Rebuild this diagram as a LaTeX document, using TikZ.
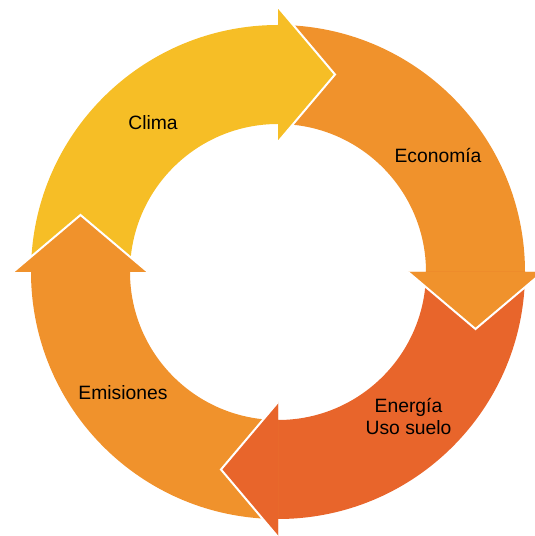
\documentclass[tikz,border=0pt]{standalone}
\usepackage{fontspec}
\setmainfont{Liberation Sans}
\usetikzlibrary{calc}
\definecolor{clima}{RGB}{246,190,38}
\definecolor{naranja}{RGB}{240,146,44}
\definecolor{rojizo}{RGB}{232,101,43}
\tikzset{
	etiqueta/.style={font=\fontsize{19.3}{22.5}\selectfont, text=black, align=center},
	hueco/.style={white, line width=2pt, line join=miter}
}
\begin{document}
\begin{tikzpicture}[x=1pt,y=1pt]
			\useasboundingbox (0,0) rectangle (535,536);
			\coordinate (O) at (278,264);
			% bandas con cabeza
			\fill [clima] ($(O)+(180:247)$) arc [start angle=180, end angle=90, radius=247] -- ($(O)+(90:265)$) -- ($(O)+(90:197.5)+(0:57)$) -- ($(O)+(90:130)$) -- ($(O)+(90:148)$) arc [start angle=90, end angle=180, radius=148] -- cycle;
			\fill [naranja] ($(O)+(90:247)$) arc [start angle=90, end angle=0, radius=247] -- ($(O)+(0:265)$) -- ($(O)+(0:197.5)+(-90:57)$) -- ($(O)+(0:130)$) -- ($(O)+(0:148)$) arc [start angle=0, end angle=90, radius=148] -- cycle;
			\fill [rojizo] ($(O)+(0:247)$) arc [start angle=0, end angle=-90, radius=247] -- ($(O)+(-90:265)$) -- ($(O)+(-90:197.5)+(-180:57)$) -- ($(O)+(-90:130)$) -- ($(O)+(-90:148)$) arc [start angle=-90, end angle=0, radius=148] -- cycle;
			\fill [naranja] ($(O)+(-90:247)$) arc [start angle=-90, end angle=-180, radius=247] -- ($(O)+(-180:265)$) -- ($(O)+(-180:197.5)+(90:57)$) -- ($(O)+(-180:130)$) -- ($(O)+(-180:148)$) arc [start angle=-180, end angle=-90, radius=148] -- cycle;
			% puntas encima, con borde blanco
			\coordinate (P1) at ($(O)+(90:197.5)+(0:57)$);
			\coordinate (P2) at ($(O)+(0:197.5)+(-90:57)$);
			\coordinate (P3) at ($(O)+(-90:197.5)+(-180:57)$);
			\coordinate (P4) at ($(O)+(-180:197.5)+(90:57)$);
			\fill [clima] ($(O)+(90:265)$) -- (P1) -- ($(O)+(90:130)$) -- cycle;
			\draw [hueco] ($(O)+(90:265)$) -- (P1) -- ($(O)+(90:130)$);
			\fill [naranja] ($(O)+(0:265)$) -- (P2) -- ($(O)+(0:130)$) -- cycle;
			\draw [hueco] ($(O)+(0:265)$) -- (P2) -- ($(O)+(0:130)$);
			\fill [rojizo] ($(O)+(-90:265)$) -- (P3) -- ($(O)+(-90:130)$) -- cycle;
			\draw [hueco] ($(O)+(-90:265)$) -- (P3) -- ($(O)+(-90:130)$);
			\fill [naranja] ($(O)+(-180:265)$) -- (P4) -- ($(O)+(-180:130)$) -- cycle;
			\draw [hueco] ($(O)+(-180:265)$) -- (P4) -- ($(O)+(-180:130)$);
			% textos
			\node [etiqueta, anchor=base] (Clima) at (153,406) {Clima};
			\node [etiqueta, anchor=base] (Economia) at (438,373) {Economía};
			\node [etiqueta, anchor=base] (Emisiones) at (123,136) {Emisiones};
			\node [etiqueta] (Energia) at (408.5,119.5) {Energía\\Uso suelo};
		\end{tikzpicture}
\end{document}
